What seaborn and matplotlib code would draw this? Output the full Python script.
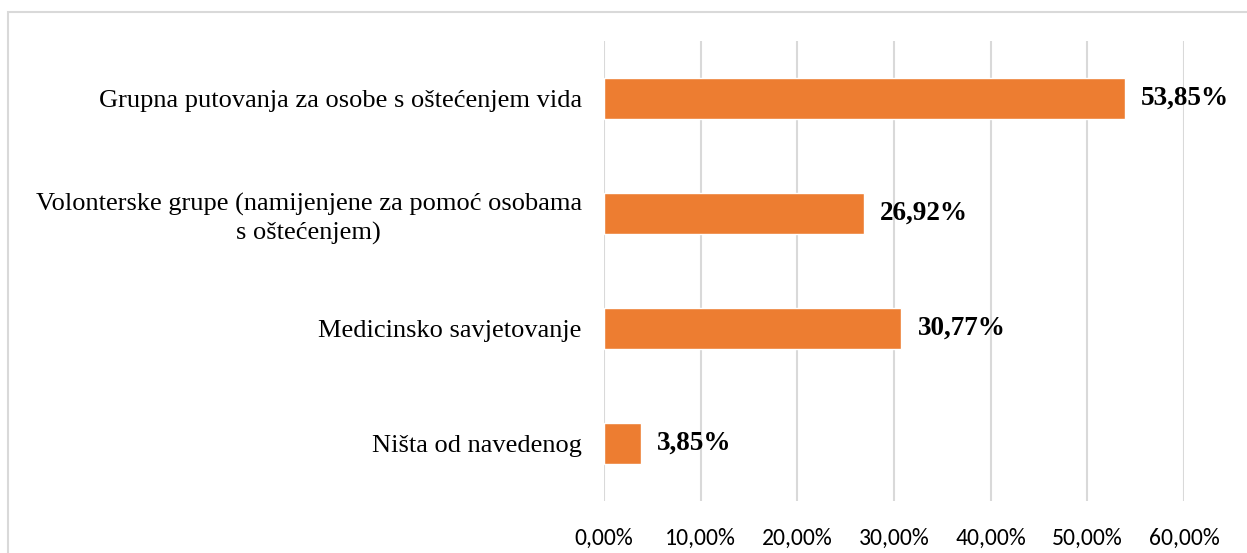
import matplotlib
matplotlib.use("Agg")
import matplotlib.pyplot as plt
import matplotlib.patches as mpatches
import seaborn as sns
import pandas as pd

categories = [
    "Grupna putovanja za osobe s oštećenjem vida",
    "Volonterske grupe (namijenjene za pomoć osobama\ns oštećenjem)",
    "Medicinsko savjetovanje",
    "Ništa od navedenog",
]
values = [53.85, 26.92, 30.77, 3.85]
x_ticks = [0, 10, 20, 30, 40, 50, 60]
x_tick_labels = ["0,00%", "10,00%", "20,00%", "30,00%", "40,00%", "50,00%", "60,00%"]

df = pd.DataFrame({"category": categories, "value": values})

sns.set_theme(style="white")
plt.rcParams["font.family"] = ["Liberation Serif", "DejaVu Serif"]

fig = plt.figure(figsize=(12.47, 5.53), dpi=100)
ax = fig.add_axes([604 / 1247, 1 - 501 / 553, (1184 - 604) / 1247, (501 - 41) / 553])

sns.barplot(data=df, x="value", y="category", orient="h", color="#ED7D31",
            saturation=1, width=0.357, ax=ax, zorder=3)

ax.set_xlim(0, 60)
ax.set_xticks(x_ticks)
ax.set_xticklabels(x_tick_labels, fontfamily=["Carlito", "Lato", "DejaVu Sans"], fontsize=17, color="black")
ax.tick_params(axis="x", length=0, pad=19)
ax.tick_params(axis="y", length=0, pad=16)
ax.set_xlabel("")
ax.set_ylabel("")
for lab in ax.get_yticklabels():
    lab.set_fontsize(19)
    lab.set_multialignment("center")
    lab.set_linespacing(1.3)
    lab.set_color("black")
    lab.set_fontfamily(["Liberation Serif", "DejaVu Serif"])

ax.grid(axis="x", color="#D9D9D9", linewidth=1.5, zorder=0)
ax.grid(axis="y", visible=False)
for s in ax.spines.values():
    s.set_visible(False)

for i, v in enumerate(values):
    ax.annotate(f"{v:.2f}%".replace(".", ","), xy=(v, i), xytext=(16, 0),
                textcoords="offset pixels",
                va="center", ha="left", fontsize=19.5, fontweight="bold",
                fontfamily=["Liberation Serif", "DejaVu Serif"], color="black")

border = mpatches.Rectangle((8 / 1247, -0.05), 1.1, 1 - 12 / 553 + 0.05,
                            transform=fig.transFigure, fill=False,
                            edgecolor="#D9D9D9", linewidth=1.5)
fig.patches.append(border)

fig.savefig("out.png", dpi=100)
